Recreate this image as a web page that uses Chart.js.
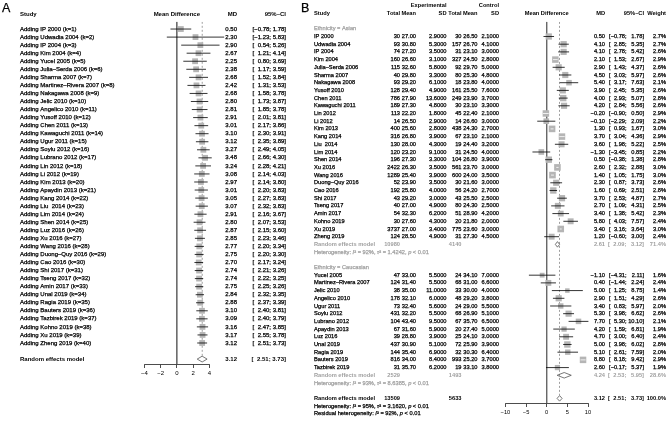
<!DOCTYPE html>
<html>
<head>
<meta charset="utf-8">
<script src="https://cdn.jsdelivr.net/npm/chart.js@4.4.0/dist/chart.umd.min.js"></script>
<style>
  html, body { margin: 0; padding: 0; background: #fff; }
  #wrap { position: relative; width: 669px; height: 421px; }
  canvas { position: absolute; left: 0; top: 0; }
</style>
</head>
<body>
<div id="wrap">
  <canvas id="chartA" width="669" height="421"></canvas>
  <canvas id="chartB" width="669" height="421"></canvas>
</div>
<script>
// ---- Panel A: cumulative meta-analysis ----
const studiesA = ['IP 2000', 'Udwadia 2004', 'IP 2004', 'Kim 2004', 'Yucel 2005', 'Julia–Serda 2006', 'Sharma 2007',
    'Martinez–Rivera 2007', 'Nakagawa 2008', 'Jelic 2010', 'Angelico 2010', 'Yusoff 2010', 'Chen 2011', 'Kawaguchi 2011',
    'Ugur 2011', 'Soylu 2012', 'Lubrano 2012', 'Lin 2012', 'Li 2012', 'Kim 2013', 'Apaydin 2013', 'Kang 2014', 'Liu  2014',
    'Lim 2014', 'Shen 2014', 'Luz 2016', 'Xu 2016', 'Wang 2016', 'Duong–Quy 2016', 'Cao 2016', 'Shi 2017', 'Tseng 2017',
    'Amin 2017', 'Unal 2019', 'Ragia 2019', 'Bauters 2019', 'Tazbirek 2019', 'Kohno 2019', 'Xu 2019', 'Zheng 2019'];
const mdA = [0.50, 2.30, 2.90, 2.67, 2.25, 2.38, 2.68, 2.42, 2.68, 2.80, 2.81, 2.91, 3.01, 3.10, 3.12, 3.27, 3.48, 3.24, 3.08, 2.97,
    3.01, 3.05, 3.07, 2.91, 2.80, 2.87, 2.85, 2.77, 2.75, 2.70, 2.74, 2.74, 2.75, 2.84, 2.88, 3.10, 3.09, 3.16, 3.17, 3.12];
const loA = [-0.78, -1.23, 0.54, 1.21, 0.80, 1.17, 1.52, 1.31, 1.58, 1.73, 1.85, 2.01, 2.17, 2.30, 2.35, 2.49, 2.66, 2.28, 2.14, 2.14,
    2.20, 2.27, 2.32, 2.16, 2.07, 2.15, 2.23, 2.20, 2.20, 2.17, 2.21, 2.22, 2.25, 2.32, 2.37, 2.40, 2.40, 2.47, 2.55, 2.51];
const hiA = [1.78, 5.83, 5.26, 4.14, 3.69, 3.59, 3.84, 3.53, 3.78, 3.87, 3.78, 3.81, 3.86, 3.91, 3.89, 4.05, 4.30, 4.21, 4.03, 3.80,
    3.83, 3.83, 3.83, 3.67, 3.53, 3.60, 3.46, 3.34, 3.30, 3.24, 3.26, 3.25, 3.26, 3.35, 3.39, 3.81, 3.79, 3.85, 3.78, 3.73];
const pooledA = [3.12, 2.51, 3.73];
const ticksA = [-4, -2, 0, 2, 4];

// ---- Panel B: subgroups by ethnicity ----
const studiesAsian = ['IP 2000', 'Udwadia 2004', 'IP 2004', 'Kim 2004', 'Julia–Serda 2006', 'Sharma 2007', 'Nakagawa 2008',
    'Yusoff 2010', 'Chen 2011', 'Kawaguchi 2011', 'Lin 2012', 'Li 2012', 'Kim 2013', 'Kang 2014', 'Liu  2014', 'Lim 2014',
    'Shen 2014', 'Xu 2016', 'Wang 2016', 'Duong–Quy 2016', 'Cao 2016', 'Shi 2017', 'Tseng 2017', 'Amin 2017', 'Kohno 2019',
    'Xu 2019', 'Zheng 2019'];
const expNAsian = [30, 93, 74, 160, 115, 40, 93, 128, 786, 189, 113, 14, 400, 316, 130, 120, 196, 2422, 1289, 52, 192, 43, 40, 54, 30, 3737, 124];
const expMeanAsian = [27.00, 30.80, 27.20, 26.60, 32.60, 29.80, 29.20, 29.40, 27.90, 27.30, 22.20, 26.50, 25.60, 26.80, 28.00, 23.20,
    27.30, 26.30, 25.40, 23.90, 25.80, 29.20, 27.00, 32.30, 27.60, 27.00, 28.50];
const expSDAsian = [2.9, 5.3, 3.5, 3.1, 5.8, 3.3, 6.1, 4.9, 13.6, 4.8, 1.8, 2.9, 2.8, 3.9, 4.3, 9.1, 3.3, 3.5, 3.9, 3.5, 4.0, 3.0, 4.9, 6.2, 4.3, 3.4, 4.9];
const ctrlNAsian = [30, 157, 31, 327, 92, 80, 18, 161, 249, 30, 45, 14, 438, 67, 19, 31, 104, 561, 600, 30, 56, 43, 80, 51, 20, 775, 31];
const ctrlMeanAsian = [26.50, 26.70, 23.10, 24.50, 29.70, 25.30, 23.80, 25.50, 23.90, 23.10, 22.40, 26.60, 24.30, 23.10, 24.40, 24.50,
    26.80, 23.70, 24.00, 21.60, 24.20, 25.50, 24.30, 28.90, 21.80, 23.60, 27.30];
const ctrlSDAsian = [2.1, 4.1, 3.0, 2.8, 5.0, 4.8, 4.0, 7.6, 3.7, 3.3, 2.1, 3.0, 2.7, 2.1, 3.2, 4.0, 3.9, 3.0, 3.5, 3.0, 2.7, 2.5, 2.5, 4.2, 2.0, 3.0, 4.5];
const mdAsian = [0.50, 4.10, 4.10, 2.10, 2.90, 4.50, 5.40, 3.90, 4.00, 4.20, -0.20, -0.10, 1.30, 3.70, 3.60, -1.30, 0.50, 2.60, 1.40,
    2.30, 1.60, 3.70, 2.70, 3.40, 5.80, 3.40, 1.20];
const loAsian = [-0.78, 2.85, 2.78, 1.53, 1.43, 3.03, 3.17, 2.45, 2.93, 2.84, -0.90, -2.29, 0.93, 3.04, 1.98, -3.45, -0.38, 2.32, 1.05,
    0.87, 0.69, 2.53, 1.09, 1.38, 4.03, 3.16, -0.60];
const hiAsian = [1.78, 5.35, 5.42, 2.67, 4.37, 5.97, 7.63, 5.35, 5.07, 5.56, 0.50, 2.09, 1.67, 4.36, 5.22, 0.85, 1.38, 2.88, 1.75,
    3.73, 2.51, 4.87, 4.31, 5.42, 7.57, 3.64, 3.00];
const weightAsian = [2.7, 2.7, 2.6, 2.9, 2.6, 2.6, 2.1, 2.6, 2.8, 2.6, 2.9, 2.2, 3.0, 2.9, 2.5, 2.2, 2.8, 3.0, 3.0, 2.6, 2.8, 2.7, 2.5, 2.3, 2.4, 3.0, 2.4];

const studiesCauc = ['Yucel 2005', 'Martinez–Rivera 2007', 'Jelic 2010', 'Angelico 2010', 'Ugur 2011', 'Soylu 2012', 'Lubrano 2012',
    'Apaydin 2013', 'Luz 2016', 'Unal 2019', 'Ragia 2019', 'Bauters 2019', 'Tazbirek 2019'];
const expNCauc = [47, 124, 38, 178, 73, 431, 104, 67, 39, 437, 144, 816, 31];
const expMeanCauc = [33.00, 31.40, 35.00, 32.10, 32.40, 32.20, 43.40, 31.60, 28.80, 30.90, 35.40, 34.00, 35.70];
const expSDCauc = [5.5, 5.5, 11.0, 6.0, 5.6, 5.5, 9.5, 5.9, 3.9, 5.1, 6.9, 8.4, 6.2];
const ctrlNCauc = [24, 68, 33, 48, 24, 68, 67, 20, 25, 72, 32, 993, 19];
const ctrlMeanCauc = [34.10, 31.00, 30.00, 29.20, 29.00, 26.90, 35.70, 27.40, 24.10, 25.90, 30.30, 25.20, 33.10];
const ctrlSDCauc = [7.0, 6.6, 4.0, 3.8, 5.5, 5.1, 6.5, 5.0, 3.0, 3.9, 6.4, 3.7, 3.8];
const mdCauc = [-1.10, 0.40, 5.00, 2.90, 3.40, 5.30, 7.70, 4.20, 4.70, 5.00, 5.10, 8.80, 2.60];
const loCauc = [-4.31, -1.44, 1.25, 1.51, 0.83, 3.98, 5.30, 1.59, 3.00, 3.98, 2.61, 8.18, -0.17];
const hiCauc = [2.11, 2.24, 8.75, 4.29, 5.97, 6.62, 10.10, 6.81, 6.40, 6.02, 7.59, 9.42, 5.37];
const weightCauc = [1.6, 2.4, 1.4, 2.6, 2.0, 2.6, 2.1, 1.9, 2.4, 2.8, 2.0, 2.9, 1.9];

// subgroup summaries: [Asian, Caucasian]
const groupNames = ['Asian', 'Caucasian'];
const groupExpN = [10980, 2529];
const groupCtrlN = [4140, 1493];
const groupMD = [2.61, 4.24];
const groupLo = [2.09, 2.53];
const groupHi = [3.12, 5.95];
const groupWeight = [71.4, 28.6];
const groupI2 = [92, 93];
const groupTau2 = ['1.4242', '8.6385'];

// overall
const overallExpN = 13509;
const overallCtrlN = 5633;
const overallB = [3.12, 2.51, 3.73];
const overallI2 = 95;
const overallTau2 = '3.1620';
const residualI2 = 92;
const ticksB = [-10, -5, 0, 5, 10];

// ---- helpers ----
const FONT = '"Liberation Sans", Arial, Helvetica, sans-serif';
const GREY = '#a0a0a0';
const THICK = 0.25; // light stroke so the small text is not too thin

function fmt(v, d) {
    return (v < 0 ? '\u2212' : '') + Math.abs(v).toFixed(d);
}

function setFont(ctx, size, bold, italic) {
    ctx.font = (italic ? 'italic ' : '') + (bold ? 'bold ' : '') + size + 'px ' + FONT;
}

function put(ctx, t, x, y, bold) {
    ctx.fillText(t, x, y);
    if (!bold) {
        ctx.lineWidth = THICK;
        ctx.strokeStyle = ctx.fillStyle;
        ctx.strokeText(t, x, y);
    }
}

function text(ctx, t, x, y, align, size, bold, color) {
    setFont(ctx, size, bold);
    ctx.textAlign = align;
    ctx.textBaseline = 'middle';
    ctx.fillStyle = color;
    put(ctx, t, x, y, bold);
}

// "[lo; hi]" with lower and upper right aligned, like R meta does
function ciText(ctx, lo, hi, right, y, size, bold, color, allLo, allHi) {
    setFont(ctx, size, bold);
    ctx.fillStyle = color;
    ctx.textBaseline = 'middle';
    const loW = Math.max(...allLo.map(v => ctx.measureText(fmt(v, 2)).width));
    const hiW = Math.max(...allHi.map(v => ctx.measureText(fmt(v, 2)).width));
    const wBr = ctx.measureText(']').width;
    const upR = right - wBr;
    const semiX = upR - hiW - ctx.measureText(' ').width - ctx.measureText(';').width;
    ctx.textAlign = 'left';
    put(ctx, ']', upR, y, bold);
    put(ctx, ';', semiX, y, bold);
    ctx.textAlign = 'right';
    put(ctx, fmt(hi, 2), upR, y, bold);
    put(ctx, fmt(lo, 2), semiX, y, bold);
    put(ctx, '[', semiX - loW, y, bold);
}

function runs(ctx, parts, x, y, size, color) {
    ctx.textAlign = 'left';
    ctx.textBaseline = 'middle';
    ctx.fillStyle = color;
    parts.forEach(([t, it]) => {
        setFont(ctx, size, false, it);
        put(ctx, t, x, y, false);
        x += ctx.measureText(t).width;
    });
}

function hetParts(i2, tau2) {
    const p = [['Heterogeneity: ', 0], ['I', 1], ['\u00b2 = ' + i2 + '%, ', 0]];
    if (tau2 !== null) p.push(['\u03c4', 1], ['\u00b2 = ' + tau2 + ', ', 0]);
    p.push(['p', 1], [' < 0.01', 0]);
    return p;
}

// CI segments for one scatter dataset: lo -> hi, then a gap
function ciPoints(lo, hi, rows) {
    const pts = [];
    lo.forEach((l, i) => {
        pts.push({x: l, y: rows[i]}, {x: hi[i], y: rows[i]}, {x: NaN, y: NaN});
    });
    return pts;
}

function diamondPoints(md, lo, hi, rows, h) {
    const pts = [];
    md.forEach((m, i) => {
        const r = rows[i];
        pts.push({x: lo[i], y: r}, {x: m, y: r - h}, {x: hi[i], y: r}, {x: m, y: r + h}, {x: lo[i], y: r}, {x: NaN, y: NaN});
    });
    return pts;
}

function baseOptions(pad, xr, ticks, yr, axisH, tickSize) {
    return {
        responsive: false,
        animation: false,
        events: [],
        layout: {padding: pad},
        plugins: {legend: {display: false}, tooltip: {enabled: false}},
        scales: {
            x: {
                type: 'linear', min: xr[0], max: xr[1], position: 'bottom',
                afterBuildTicks: s => { s.ticks = ticks.map(v => ({value: v})); },
                afterFit: s => { s.height = axisH; },
                grid: {display: true, drawOnChartArea: false, drawTicks: true, tickLength: 4, color: '#000', lineWidth: 0.7},
                border: {display: true, color: '#000', width: 0.7},
                ticks: {font: {family: FONT, size: tickSize}, color: '#000', padding: 2, maxRotation: 0, autoSkip: false,
                    callback: v => fmt(v, 0)}
            },
            y: {type: 'linear', display: false, reverse: true, min: yr[0], max: yr[1]}
        }
    };
}

function ciColor(sides) {
    // CI line drawn white where it fits inside its square
    return ctx => {
        const i = Math.floor(ctx.p0DataIndex / 3);
        return (ctx.p1.x - ctx.p0.x) < sides[i] ? '#fff' : '#000';
    };
}

// ---- Chart A ----
const SIZE_A = 6.0;
const rowsA = studiesA.map((s, i) => i + 1);
const rowREA = studiesA.length + 2;
const sideA = studiesA.map(() => 5.8);

const tableA = {
    id: 'tableA',
    afterDraw(chart) {
        const ctx = chart.ctx;
        const y = v => chart.scales.y.getPixelForValue(v);
        const mdR = 237, ciR = 286;
        ctx.save();
        text(ctx, 'A', 2, 9, 'left', 12.5, false, '#000');
        const hy = y(-0.85);
        text(ctx, 'Study', 20, hy, 'left', SIZE_A, true, '#000');
        text(ctx, 'Mean Difference', chart.scales.x.getPixelForValue(0), hy, 'center', SIZE_A, true, '#000');
        text(ctx, 'MD', mdR, hy, 'right', SIZE_A, true, '#000');
        text(ctx, '95%\u2013CI', ciR, hy, 'right', SIZE_A, true, '#000');
        studiesA.forEach((s, i) => {
            const yy = y(rowsA[i]);
            text(ctx, 'Adding ' + s + ' (k=' + (i + 1) + ')', 20, yy, 'left', SIZE_A, false, '#000');
            text(ctx, fmt(mdA[i], 2), mdR, yy, 'right', SIZE_A, false, '#000');
            ciText(ctx, loA[i], hiA[i], ciR, yy, SIZE_A, false, '#000', loA, hiA);
        });
        const ry = y(rowREA);
        text(ctx, 'Random effects model', 20, ry, 'left', SIZE_A, true, '#000');
        text(ctx, fmt(pooledA[0], 2), mdR, ry, 'right', SIZE_A, true, '#000');
        ciText(ctx, pooledA[1], pooledA[2], ciR, ry, SIZE_A, true, '#000', loA, hiA);
        ctx.restore();
    }
};

new Chart(document.getElementById('chartA'), {
    type: 'scatter',
    data: {
        datasets: [
            {   // diamond
                data: diamondPoints([pooledA[0]], [pooledA[1]], [pooledA[2]], [rowREA], 0.36),
                showLine: true, borderColor: '#555', borderWidth: 0.8, pointRadius: 0, clip: false, order: 1
            },
            {   // confidence intervals
                data: ciPoints(loA, hiA, rowsA),
                showLine: true, borderWidth: 0.8, pointRadius: 0, clip: false, order: 2,
                segment: {borderColor: ciColor(sideA)}
            },
            {   // squares
                data: mdA.map((m, i) => ({x: m, y: rowsA[i]})),
                pointStyle: 'rect', pointRadius: sideA.map(s => s / Math.SQRT2), backgroundColor: '#b5b5b5',
                borderWidth: 0, clip: false, order: 3
            },
            {   // pooled estimate, dashed
                data: [{x: pooledA[0], y: 0.1}, {x: pooledA[0], y: rowREA - 0.4}],
                showLine: true, borderColor: '#777', borderWidth: 0.7, borderDash: [2, 2], pointRadius: 0, order: 4
            },
            {   // line of no effect
                data: [{x: 0, y: 0.1}, {x: 0, y: 42.61}],
                showLine: true, borderColor: '#666', borderWidth: 0.9, pointRadius: 0, order: 5
            }
        ]
    },
    options: baseOptions({left: 144.3, right: 669 - 209.3, top: 21.8, bottom: 421 - 364 - 16},
        [-4, 4], ticksA, [0.1, 42.61], 16, SIZE_A),
    plugins: [tableA]
});

// ---- Chart B ----
const SIZE_B = 5.7;
const nAs = studiesAsian.length, nCa = studiesCauc.length;
const rowsAsian = studiesAsian.map((s, i) => 1 + i);
const rowREAsian = nAs + 1;
const rowHeadCauc = nAs + 4;
const rowsCauc = studiesCauc.map((s, i) => rowHeadCauc + 1 + i);
const rowRECauc = rowHeadCauc + nCa + 1;
const rowOverall = rowRECauc + 3;
const rowsGroupRE = [rowREAsian, rowRECauc];
const rowsGroupHead = [0, rowHeadCauc];

const allRows = rowsAsian.concat(rowsCauc);
const allMD = mdAsian.concat(mdCauc);
const allLo = loAsian.concat(loCauc);
const allHi = hiAsian.concat(hiCauc);
const allW = weightAsian.concat(weightCauc);
const sideB = allW.map(w => 6.6 * Math.sqrt(w / 3.0));

const tableB = {
    id: 'tableB',
    afterDraw(chart) {
        const ctx = chart.ctx;
        const y = v => chart.scales.y.getPixelForValue(v);
        const c = {study: 314, expN: 400, expMean: 416, expSD: 446.5, ctrlN: 461.5, ctrlMean: 477.5, ctrlSD: 499,
            md: 605, ci: 644, w: 666};
        const ciLo = allLo.concat(groupLo, [overallB[1]]);
        const ciHi = allHi.concat(groupHi, [overallB[2]]);
        ctx.save();
        text(ctx, 'B', 301, 9, 'left', 12.5, false, '#000');
        const h1 = y(-3), h2 = y(-2);
        text(ctx, 'Experimental', c.expSD, h1, 'right', SIZE_B, true, '#000');
        text(ctx, 'Control', c.ctrlSD, h1, 'right', SIZE_B, true, '#000');
        text(ctx, 'Study', c.study, h2, 'left', SIZE_B, true, '#000');
        text(ctx, 'Total', c.expN, h2, 'right', SIZE_B, true, '#000');
        text(ctx, 'Mean', c.expMean, h2, 'right', SIZE_B, true, '#000');
        text(ctx, 'SD', c.expSD, h2, 'right', SIZE_B, true, '#000');
        text(ctx, 'Total', c.ctrlN, h2, 'right', SIZE_B, true, '#000');
        text(ctx, 'Mean', c.ctrlMean, h2, 'right', SIZE_B, true, '#000');
        text(ctx, 'SD', c.ctrlSD, h2, 'right', SIZE_B, true, '#000');
        text(ctx, 'Mean Difference', chart.scales.x.getPixelForValue(0), h2, 'center', SIZE_B, true, '#000');
        text(ctx, 'MD', c.md, h2, 'right', SIZE_B, true, '#000');
        text(ctx, '95%\u2013CI', c.ci, h2, 'right', SIZE_B, true, '#000');
        text(ctx, 'Weight', c.w, h2, 'right', SIZE_B, true, '#000');

        const groups = [
            [studiesAsian, expNAsian, expMeanAsian, expSDAsian, ctrlNAsian, ctrlMeanAsian, ctrlSDAsian, mdAsian, loAsian, hiAsian, weightAsian, rowsAsian],
            [studiesCauc, expNCauc, expMeanCauc, expSDCauc, ctrlNCauc, ctrlMeanCauc, ctrlSDCauc, mdCauc, loCauc, hiCauc, weightCauc, rowsCauc]
        ];
        groups.forEach(([st, en, em, es, cn, cm, cs, md, lo, hi, w, rows], g) => {
            text(ctx, 'Ethnicity = ' + groupNames[g], c.study, y(rowsGroupHead[g]), 'left', SIZE_B, false, GREY);
            st.forEach((s, i) => {
                const yy = y(rows[i]);
                text(ctx, s, c.study, yy, 'left', SIZE_B, false, '#000');
                text(ctx, String(en[i]), c.expN, yy, 'right', SIZE_B, false, '#000');
                text(ctx, em[i].toFixed(2), c.expMean, yy, 'right', SIZE_B, false, '#000');
                text(ctx, es[i].toFixed(4), c.expSD, yy, 'right', SIZE_B, false, '#000');
                text(ctx, String(cn[i]), c.ctrlN, yy, 'right', SIZE_B, false, '#000');
                text(ctx, cm[i].toFixed(2), c.ctrlMean, yy, 'right', SIZE_B, false, '#000');
                text(ctx, cs[i].toFixed(4), c.ctrlSD, yy, 'right', SIZE_B, false, '#000');
                text(ctx, fmt(md[i], 2), c.md, yy, 'right', SIZE_B, false, '#000');
                ciText(ctx, lo[i], hi[i], c.ci, yy, SIZE_B, false, '#000', ciLo, ciHi);
                text(ctx, w[i].toFixed(1) + '%', c.w, yy, 'right', SIZE_B, false, '#000');
            });
            const ry = y(rowsGroupRE[g]);
            text(ctx, 'Random effects model', c.study, ry, 'left', SIZE_B, true, GREY);
            text(ctx, String(groupExpN[g]), c.expN, ry, 'right', SIZE_B, true, GREY);
            text(ctx, String(groupCtrlN[g]), c.ctrlN, ry, 'right', SIZE_B, true, GREY);
            text(ctx, fmt(groupMD[g], 2), c.md, ry, 'right', SIZE_B, true, GREY);
            ciText(ctx, groupLo[g], groupHi[g], c.ci, ry, SIZE_B, true, GREY, ciLo, ciHi);
            text(ctx, groupWeight[g].toFixed(1) + '%', c.w, ry, 'right', SIZE_B, true, GREY);
            runs(ctx, hetParts(groupI2[g], groupTau2[g]), c.study, y(rowsGroupRE[g] + 1), SIZE_B, GREY);
        });

        const oy = y(rowOverall);
        text(ctx, 'Random effects model', c.study, oy, 'left', SIZE_B, true, '#000');
        text(ctx, String(overallExpN), c.expN, oy, 'right', SIZE_B, true, '#000');
        text(ctx, String(overallCtrlN), c.ctrlN, oy, 'right', SIZE_B, true, '#000');
        text(ctx, fmt(overallB[0], 2), c.md, oy, 'right', SIZE_B, true, '#000');
        ciText(ctx, overallB[1], overallB[2], c.ci, oy, SIZE_B, true, '#000', ciLo, ciHi);
        text(ctx, '100.0%', c.w, oy, 'right', SIZE_B, true, '#000');
        runs(ctx, hetParts(overallI2, overallTau2), c.study, y(rowOverall + 1), SIZE_B, '#000');
        const res = hetParts(residualI2, null);
        res[0][0] = 'Residual heterogeneity: ';
        runs(ctx, res, c.study, y(rowOverall + 2), SIZE_B, '#000');
        ctx.restore();
    }
};

new Chart(document.getElementById('chartB'), {
    type: 'scatter',
    data: {
        datasets: [
            {   // subgroup and overall diamonds
                data: diamondPoints(groupMD.concat([overallB[0]]), groupLo.concat([overallB[1]]),
                    groupHi.concat([overallB[2]]), rowsGroupRE.concat([rowOverall]), 0.36),
                showLine: true, borderColor: '#555', borderWidth: 0.8, pointRadius: 0, clip: false, order: 1
            },
            {   // confidence intervals
                data: ciPoints(allLo, allHi, allRows),
                showLine: true, borderWidth: 0.8, pointRadius: 0, clip: false, order: 2,
                segment: {borderColor: ciColor(sideB)}
            },
            {   // squares sized by weight
                data: allMD.map((m, i) => ({x: m, y: allRows[i]})),
                pointStyle: 'rect', pointRadius: sideB.map(s => s / Math.SQRT2), backgroundColor: '#b5b5b5',
                borderWidth: 0, clip: false, order: 3
            },
            {   // overall estimate, dashed
                data: [{x: overallB[0], y: -0.9}, {x: overallB[0], y: rowOverall - 0.4}],
                showLine: true, borderColor: '#777', borderWidth: 0.7, borderDash: [2, 2], pointRadius: 0, order: 4
            },
            {   // line of no effect
                data: [{x: 0, y: -0.9}, {x: 0, y: 48.6}],
                showLine: true, borderColor: '#666', borderWidth: 0.9, pointRadius: 0, order: 5
            }
        ]
    },
    options: baseOptions({left: 505.4, right: 669 - 588, top: 21.87, bottom: 421 - 403 - 14},
        [-10, 10], ticksB, [-0.9, 48.6], 14, SIZE_B),
    plugins: [tableB]
});
</script>
</body>
</html>
